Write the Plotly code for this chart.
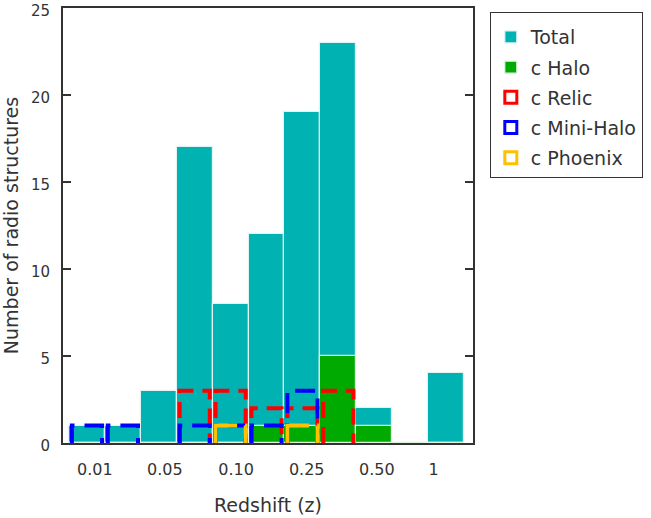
import plotly.graph_objects as go

# ---- data ----
bins = list(range(11))
total = [1, 1, 3, 17, 8, 12, 19, 23, 2, 0, 4]
halo = [0, 0, 0, 0, 0, 1, 1, 5, 1, 0, 0]
relic = [0, 0, 0, 3, 3, 2, 2, 3, 0, 0, 0]
mini_halo = [1, 1, 0, 1, 1, 1, 3, 0, 0, 0, 0]
phoenix = [0, 0, 0, 0, 1, 0, 1, 0, 0, 0, 0]
tick_pos = [0.22, 2.17, 4.15, 6.12, 8.07, 9.65]
tick_text = ["0.01", "0.05", "0.10", "0.25", "0.50", "1"]

FONT = "DejaVu Sans"
TXT = "#333333"
TEAL = "#00B2B2"
GREEN = "#00AA00"
RED = "#FF0000"
BLUE = "#0000FF"
GOLD = "#FFC000"


def outline(vals, half=0.42):
    xs, ys = [], []
    for b, v in zip(bins, vals):
        if v > 0:
            xs += [b - half, b - half, b + half, b + half, None]
            ys += [0, v, v, 0, None]
    return xs, ys


fig = go.Figure()
fig.add_trace(go.Bar(x=bins, y=total, name="Total", width=1, legendgroup="g1",
                     marker=dict(color=TEAL, line=dict(color="#e0f4f4", width=1.2))))
fig.add_trace(go.Bar(x=bins, y=halo, name="c Halo", width=1, legendgroup="g2",
                     marker=dict(color=GREEN, line=dict(color="#e0f4e0", width=1.2))))

for k, (name, vals, col, dash) in enumerate([("c Relic", relic, RED, "16px,9px"),
                                             ("c Mini-Halo", mini_halo, BLUE, "20px,10px"),
                                             ("c Phoenix", phoenix, GOLD, "39px,8px")]):
    xs, ys = outline(vals)
    fig.add_trace(go.Scatter(x=xs, y=ys, mode="lines", showlegend=False,
                             legendgroup="h%d" % k,
                             line=dict(color=col, width=4, dash=dash),
                             hoverinfo="skip"))
    fig.add_trace(go.Bar(x=[None], y=[None], name=name, legendgroup="g%d" % (k + 3),
                         marker=dict(color="rgba(0,0,0,0)",
                                     line=dict(color=col, width=3))))

fig.update_layout(
    width=651, height=518,
    margin=dict(l=63, r=178, t=8, b=75),
    barmode="overlay", bargap=0,
    plot_bgcolor="white", paper_bgcolor="white",
    font=dict(family=FONT, color=TXT, size=15),
    showlegend=True,
    legend=dict(x=1.041, y=0.991, xanchor="left", yanchor="top",
                bordercolor="#333333", borderwidth=1, bgcolor="white",
                font=dict(family=FONT, size=19, color=TXT),
                title=dict(text=" ", font=dict(size=4)),
                traceorder="grouped", tracegroupgap=2.5),
)
fig.update_xaxes(range=[-0.668, 10.75], tickvals=tick_pos, ticktext=tick_text,
                 ticks="", showgrid=False, zeroline=False, automargin=False,
                 showline=True, linecolor="#333333", linewidth=2, mirror=True,
                 ticklabelstandoff=11,
                 tickfont=dict(family=FONT, size=16, color=TXT),
                 title=dict(text="Redshift (z)", standoff=20,
                            font=dict(family=FONT, size=19, color=TXT)))
fig.update_yaxes(range=[0, 25], tickvals=[0, 5, 10, 15, 20, 25],
                 ticks="inside", ticklen=8, tickwidth=2, tickcolor="#333333",
                 showgrid=False, zeroline=False, automargin=False,
                 showline=True, linecolor="#333333", linewidth=2, mirror="ticks",
                 ticklabelstandoff=8, ticklabelshift=3, ticklabeloverflow="allow",
                 tickfont=dict(family=FONT, size=15, color=TXT),
                 title=dict(text="Number of radio structures", standoff=9,
                            font=dict(family=FONT, size=19, color=TXT)))

fig.write_html("out.html")
